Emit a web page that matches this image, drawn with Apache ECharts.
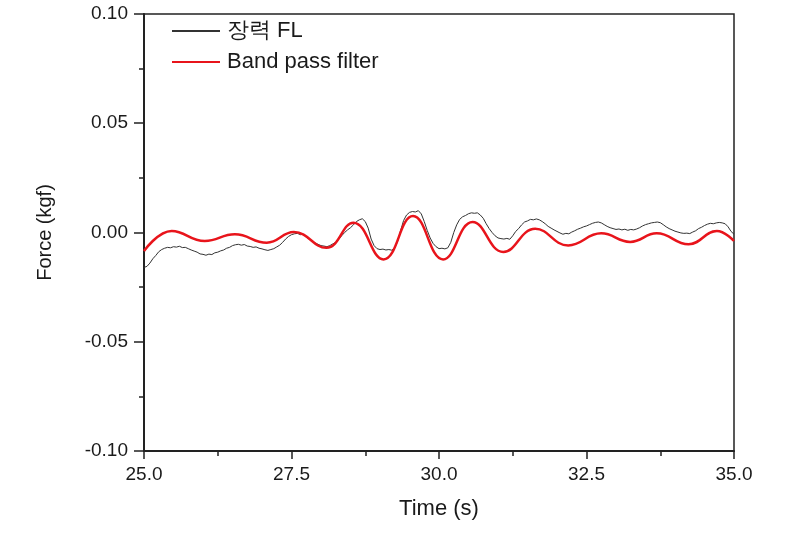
<!DOCTYPE html>
<html>
<head>
<meta charset="utf-8">
<script src="https://cdn.jsdelivr.net/npm/echarts@6/dist/echarts.min.js"></script>
<style>html,body{margin:0;padding:0;background:#fff;}#c{width:790px;height:533px;}</style>
</head>
<body>
<div id="c"></div>
<script>
const seriesNames = ['장력 FL', 'Band pass filter'];
const rawTime = [25.00,25.05,25.10,25.15,25.20,25.25,25.30,25.35,25.40,25.45,25.50,25.55,25.60,25.65,25.70,25.75,25.80,25.85,25.90,25.95,
26.00,26.05,26.10,26.15,26.20,26.25,26.30,26.35,26.40,26.45,26.50,26.55,26.60,26.65,26.70,26.75,26.80,26.85,26.90,26.95,
27.00,27.05,27.10,27.15,27.20,27.25,27.30,27.35,27.40,27.45,27.50,27.55,27.60,27.65,27.70,27.75,27.80,27.85,27.90,27.95,
28.00,28.05,28.10,28.15,28.20,28.25,28.30,28.35,28.40,28.45,28.50,28.55,28.60,28.65,28.70,28.75,28.80,28.85,28.90,28.95,
29.00,29.05,29.10,29.15,29.20,29.25,29.30,29.35,29.40,29.45,29.50,29.55,29.60,29.65,29.70,29.75,29.80,29.85,29.90,29.95,
30.00,30.05,30.10,30.15,30.20,30.25,30.30,30.35,30.40,30.45,30.50,30.55,30.60,30.65,30.70,30.75,30.80,30.85,30.90,30.95,
31.00,31.05,31.10,31.15,31.20,31.25,31.30,31.35,31.40,31.45,31.50,31.55,31.60,31.65,31.70,31.75,31.80,31.85,31.90,31.95,
32.00,32.05,32.10,32.15,32.20,32.25,32.30,32.35,32.40,32.45,32.50,32.55,32.60,32.65,32.70,32.75,32.80,32.85,32.90,32.95,
33.00,33.05,33.10,33.15,33.20,33.25,33.30,33.35,33.40,33.45,33.50,33.55,33.60,33.65,33.70,33.75,33.80,33.85,33.90,33.95,
34.00,34.05,34.10,34.15,34.20,34.25,34.30,34.35,34.40,34.45,34.50,34.55,34.60,34.65,34.70,34.75,34.80,34.85,34.90,34.95,35.00];
const rawForce = [-0.0160,-0.0155,-0.0140,-0.0120,-0.0105,-0.0088,-0.0078,-0.0072,-0.0068,-0.0070,-0.0065,-0.0067,-0.0063,-0.0069,-0.0068,-0.0074,-0.0080,-0.0085,-0.0090,-0.0098,
-0.0100,-0.0104,-0.0099,-0.0101,-0.0093,-0.0090,-0.0084,-0.0080,-0.0072,-0.0068,-0.0060,-0.0056,-0.0054,-0.0058,-0.0055,-0.0062,-0.0064,-0.0068,-0.0066,-0.0072,
-0.0075,-0.0079,-0.0082,-0.0078,-0.0074,-0.0066,-0.0058,-0.0045,-0.0030,-0.0018,-0.0010,-0.0006,-0.0004,-0.0010,-0.0008,-0.0022,-0.0030,-0.0040,-0.0048,-0.0054,
-0.0060,-0.0062,-0.0065,-0.0060,-0.0052,-0.0045,-0.0032,-0.0015,0.0000,0.0012,0.0022,0.0035,0.0050,0.0058,0.0063,0.0050,0.0020,-0.0030,-0.0060,-0.0074,
-0.0078,-0.0076,-0.0080,-0.0078,-0.0081,-0.0070,-0.0040,0.0010,0.0055,0.0080,0.0092,0.0096,0.0094,0.0100,0.0085,0.0050,0.0010,-0.0025,-0.0050,-0.0065,
-0.0074,-0.0072,-0.0075,-0.0070,-0.0045,0.0000,0.0035,0.0060,0.0072,0.0078,0.0086,0.0090,0.0088,0.0090,0.0080,0.0065,0.0040,0.0018,0.0000,-0.0015,
-0.0025,-0.0028,-0.0030,-0.0027,-0.0031,-0.0015,0.0005,0.0018,0.0035,0.0048,0.0053,0.0060,0.0058,0.0062,0.0058,0.0050,0.0040,0.0028,0.0020,0.0012,
0.0005,-0.0002,-0.0008,-0.0004,-0.0006,0.0002,0.0008,0.0015,0.0020,0.0026,0.0030,0.0036,0.0042,0.0046,0.0048,0.0044,0.0036,0.0028,0.0022,0.0018,
0.0014,0.0016,0.0012,0.0015,0.0010,0.0014,0.0012,0.0016,0.0022,0.0030,0.0036,0.0040,0.0044,0.0046,0.0048,0.0045,0.0036,0.0026,0.0018,0.0012,
0.0006,0.0002,-0.0002,-0.0004,-0.0003,-0.0005,0.0002,0.0008,0.0018,0.0024,0.0032,0.0038,0.0042,0.0040,0.0044,0.0046,0.0044,0.0040,0.0026,0.0005,-0.0008];
const filtTime = [25.00,25.47,26.03,26.54,27.08,27.54,28.09,28.55,29.06,29.56,30.07,30.57,31.09,31.63,32.19,32.75,33.24,33.69,34.23,34.71,35.00];
const filtForce = [-0.0085,0.0007,-0.0039,-0.0008,-0.0047,0.0002,-0.0070,0.0045,-0.0123,0.0075,-0.0123,0.0048,-0.0089,0.0017,-0.0059,-0.0004,-0.0043,-0.0004,-0.0054,0.0007,-0.0039];
const xTicks = [25.0, 27.5, 30.0, 32.5, 35.0];
const yTicks = [-0.10, -0.05, 0.00, 0.05, 0.10];

const chart = echarts.init(document.getElementById('c'), null, {renderer: 'canvas'});
const axisColor = '#222';
const font = 'Arial, "Liberation Sans", sans-serif';
chart.setOption({
  animation: false,
  backgroundColor: '#fff',
  grid: {left: 144, top: 14, right: 56, bottom: 82, show: true, borderColor: axisColor, borderWidth: 1.5, backgroundColor: 'transparent'},
  legend: {
    orient: 'vertical', left: 167, top: 15, itemWidth: 48, itemHeight: 2, itemGap: 9,
    icon: 'rect',
    textStyle: {fontSize: 22, color: '#1a1a1a', fontFamily: font, padding: [0, 0, 0, 2]},
    data: seriesNames
  },
  xAxis: {
    type: 'value', min: xTicks[0], max: xTicks[xTicks.length - 1], interval: 2.5,
    name: 'Time (s)', nameLocation: 'middle', nameGap: 47,
    nameTextStyle: {fontSize: 22, color: '#1a1a1a', fontFamily: font},
    axisLine: {show: true, onZero: false, lineStyle: {color: axisColor, width: 2}},
    axisTick: {show: true, inside: false, length: 8, lineStyle: {color: axisColor, width: 1.5}},
    minorTick: {show: true, splitNumber: 2, length: 5, lineStyle: {color: axisColor, width: 1.5}},
    axisLabel: {fontSize: 19, color: '#1a1a1a', fontFamily: font, margin: 14, formatter: v => v.toFixed(1)},
    splitLine: {show: false}
  },
  yAxis: {
    type: 'value', min: yTicks[0], max: yTicks[yTicks.length - 1], interval: 0.05,
    name: 'Force (kgf)', nameLocation: 'middle', nameGap: 89, nameRotate: 90,
    nameTextStyle: {fontSize: 20, color: '#1a1a1a', fontFamily: font},
    axisLine: {show: true, onZero: false, lineStyle: {color: axisColor, width: 2}},
    axisTick: {show: true, inside: false, length: 10, lineStyle: {color: axisColor, width: 1.5}},
    minorTick: {show: true, splitNumber: 2, length: 5, lineStyle: {color: axisColor, width: 1.5}},
    axisLabel: {fontSize: 19, color: '#1a1a1a', fontFamily: font, margin: 16, formatter: v => v.toFixed(2)},
    splitLine: {show: false}
  },
  series: [
    {
      name: seriesNames[0], type: 'line', symbol: 'none', smooth: false,
      lineStyle: {color: '#333', width: 1}, itemStyle: {color: '#333'},
      data: rawTime.map((t, i) => [t, rawForce[i]]), z: 2
    },
    {
      name: seriesNames[1], type: 'line', symbol: 'none', smooth: 0.45,
      lineStyle: {color: '#e8141b', width: 2.5}, itemStyle: {color: '#e8141b'},
      data: filtTime.map((t, i) => [t, filtForce[i]]), z: 3
    }
  ]
});
</script>
</body>
</html>
